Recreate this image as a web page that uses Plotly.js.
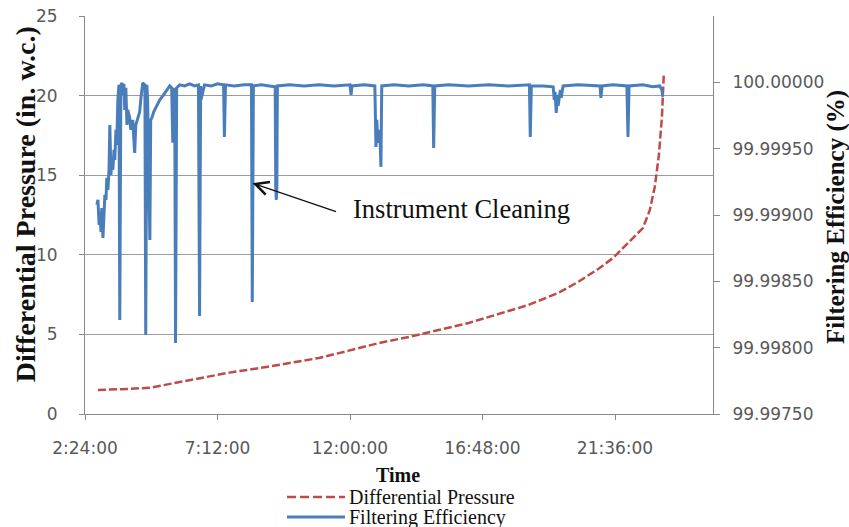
<!DOCTYPE html>
<html>
<head>
<meta charset="utf-8">
<script src="https://cdn.plot.ly/plotly-3.0.1.min.js"></script>
<style>html,body{margin:0;padding:0;background:#fff;}#chart{width:849px;height:527px;}</style>
</head>
<body>
<div id="chart"></div>
<script>
// ---- Data (time of day in hours) ----
const xTickVals = [2.4, 7.2, 12.0, 16.8, 21.6];
const xTickText = ["2:24:00", "7:12:00", "12:00:00", "16:48:00", "21:36:00"];
const yTickVals = [0, 5, 10, 15, 20, 25];
const y2TickVals = [99.9975, 99.998, 99.9985, 99.999, 99.9995, 100.0];
const y2TickText = ["99.99750", "99.99800", "99.99850", "99.99900", "99.99950", "100.00000"];

const dpTime = [2.87, 3.5, 4.0, 4.75, 5.5, 6.55, 7.63, 8.97, 10.88, 11.96, 13.05, 14.13, 15.21, 16.30, 17.38, 18.46, 19.54, 20.26, 20.99, 21.53, 22.07, 22.61, 22.86, 23.04, 23.19, 23.30, 23.37];
const diffPressure = [1.51, 1.53, 1.58, 1.65, 1.9, 2.26, 2.6, 2.95, 3.52, 3.98, 4.46, 4.84, 5.28, 5.72, 6.28, 6.85, 7.6, 8.29, 9.11, 9.8, 10.74, 11.68, 12.8, 14.26, 16.27, 18.66, 21.42];

const feTime = [2.83, 2.87, 2.91, 2.94, 2.98, 3.01, 3.05, 3.09, 3.12, 3.16, 3.19, 3.23, 3.27, 3.30, 3.34, 3.37, 3.41, 3.45, 3.48, 3.52, 3.55, 3.59, 3.63, 3.645, 3.66, 3.68, 3.70, 3.74, 3.77, 3.81, 3.84, 3.88, 3.92, 3.95, 4.02, 4.06, 4.13, 4.17, 4.20, 4.24, 4.31, 4.38, 4.42, 4.46, 4.49, 4.57, 4.60, 4.64, 4.67, 4.71, 4.75, 4.78, 4.82, 4.89, 4.96, 5.03, 5.11, 5.22, 5.32, 5.40, 5.47, 5.54, 5.58, 5.61, 5.65, 5.68, 5.72, 5.83, 6.01, 6.19, 6.37, 6.51, 6.55, 6.59, 6.60, 6.73, 6.98, 7.20, 7.42, 7.45, 7.49, 7.81, 8.17, 8.43, 8.46, 8.50, 8.79, 9.08, 9.29, 9.31, 9.33, 9.35, 9.37, 9.80, 10.34, 10.88, 11.42, 12.00, 12.04, 12.07, 12.51, 12.90, 12.94, 12.97, 13.01, 13.08, 13.12, 13.15, 13.59, 14.13, 14.67, 15.00, 15.03, 15.07, 15.57, 16.29, 17.02, 17.74, 18.50, 18.53, 18.57, 19.00, 19.36, 19.40, 19.43, 19.47, 19.51, 19.54, 19.62, 19.65, 19.72, 20.26, 20.81, 21.06, 21.09, 21.13, 21.53, 22.03, 22.07, 22.11, 22.61, 22.97, 23.22, 23.30, 23.33];
const filterEff = [99.999076, 99.999114, 99.998925, 99.999023, 99.998872, 99.999053, 99.998827, 99.999001, 99.999152, 99.999114, 99.999280, 99.999189, 99.999340, 99.999679, 99.999302, 99.999415, 99.999340, 99.999491, 99.999415, 99.999642, 99.999529, 99.999868, 99.999981, 99.999114, 99.998209, 99.999114, 99.999981, 99.999996, 99.999906, 99.999989, 99.999792, 99.999958, 99.999679, 99.999792, 99.999732, 99.999642, 99.999717, 99.999566, 99.999468, 99.999679, 99.999732, 99.999777, 99.999868, 99.999943, 99.999996, 99.999981, 99.998096, 99.999981, 99.999868, 99.999265, 99.998812, 99.999717, 99.999732, 99.999777, 99.999808, 99.999830, 99.999868, 99.999898, 99.999928, 99.999958, 99.999973, 99.999958, 99.999544, 99.999906, 99.999958, 99.998035, 99.999958, 99.999981, 99.999973, 99.999989, 99.999973, 99.999981, 99.998239, 99.999973, 99.999868, 99.999981, 99.999973, 99.999989, 99.999981, 99.999589, 99.999981, 99.999973, 99.999981, 99.999981, 99.998345, 99.999973, 99.999981, 99.999973, 99.999966, 99.999212, 99.999114, 99.999212, 99.999973, 99.999981, 99.999973, 99.999981, 99.999973, 99.999981, 99.999906, 99.999973, 99.999981, 99.999973, 99.999513, 99.999717, 99.999544, 99.999642, 99.999363, 99.999973, 99.999981, 99.999973, 99.999981, 99.999973, 99.999506, 99.999973, 99.999981, 99.999973, 99.999981, 99.999973, 99.999981, 99.999589, 99.999973, 99.999973, 99.999966, 99.999868, 99.999928, 99.999770, 99.999906, 99.999823, 99.999943, 99.999883, 99.999973, 99.999981, 99.999973, 99.999973, 99.999883, 99.999973, 99.999981, 99.999973, 99.999589, 99.999973, 99.999981, 99.999966, 99.999973, 99.999943, 99.999890];

const seriesNames = ["Differential Pressure", "Filtering Efficiency"];
const annotationText = "Instrument Cleaning";
const arrowTip = {x: 8.47, y: 14.5};

// ---- Styles ----
const RED = "#BE4B48", BLUE = "#4A7EBB", GRID = "#9c9c9c", AXIS = "#8a8a8a", TICK = "#595959";
const SERIF = "'Liberation Serif', 'Times New Roman', serif";
const SANS = "'DejaVu Sans', Verdana, sans-serif";

const traces = [
  {x: dpTime, y: diffPressure, name: seriesNames[0], type: "scatter", mode: "lines",
   line: {color: RED, width: 2.5, dash: "8px,3px"}, yaxis: "y"},
  {x: feTime, y: filterEff, name: seriesNames[1], type: "scatter", mode: "lines",
   line: {color: BLUE, width: 3}, yaxis: "y2"}
];

const layout = {
  width: 849, height: 527,
  margin: {l: 85, r: 136, t: 16, b: 113},
  paper_bgcolor: "#fff", plot_bgcolor: "#fff",
  showlegend: false,
  xaxis: {range: [2.4, 25.15], tickvals: xTickVals, ticktext: xTickText,
    showgrid: false, zeroline: false, showline: true, linecolor: AXIS, linewidth: 1,
    ticks: "outside", ticklen: 5, tickcolor: AXIS, ticklabelstandoff: 14,
    tickfont: {family: SANS, size: 17, color: TICK}},
  yaxis: {range: [0, 25], tickvals: yTickVals, showgrid: true, gridcolor: GRID, gridwidth: 1,
    zeroline: false, showline: true, linecolor: AXIS, ticks: "outside", ticklen: 5, tickcolor: AXIS,
    ticklabelstandoff: 18, tickfont: {family: SANS, size: 17, color: TICK}},
  yaxis2: {range: [99.9975, 100.0005], overlaying: "y", side: "right", tickvals: y2TickVals, ticktext: y2TickText,
    showgrid: false, zeroline: false, showline: true, linecolor: AXIS, ticks: "outside", ticklen: 6, tickcolor: AXIS,
    ticklabelstandoff: 9, tickfont: {family: SANS, size: 17, color: TICK}},
  shapes: [
    {type: "line", xref: "paper", yref: "paper", x0: 0.3217, x1: 0.414, y0: -0.2085, y1: -0.2085,
     line: {color: RED, width: 2.5, dash: "9px,4px"}},
    {type: "line", xref: "paper", yref: "paper", x0: 0.3217, x1: 0.414, y0: -0.2588, y1: -0.2588,
     line: {color: BLUE, width: 3}}
  ],
  annotations: [
    {x: arrowTip.x, y: arrowTip.y, xref: "x", yref: "y", text: "", showarrow: true,
     ax: 85, ay: 29, arrowhead: 5, arrowsize: 2, arrowwidth: 1.3, arrowcolor: "#111"},
    {x: 12.05, y: 12.85, xref: "x", yref: "y", text: annotationText, showarrow: false,
     xanchor: "left", yanchor: "middle", font: {family: SERIF, size: 26.5, color: "#111"}},
    {x: -0.0955, y: 0.527, xref: "paper", yref: "paper", text: "<b>Differential Pressure (in. w.c.)</b>",
     textangle: -90, showarrow: false, xanchor: "center", yanchor: "middle",
     font: {family: SERIF, size: 28, color: "#111"}},
    {x: 1.1959, y: 0.495, xref: "paper", yref: "paper", text: "<b>Filtering Efficiency (%)</b>",
     textangle: -90, showarrow: false, xanchor: "center", yanchor: "middle",
     font: {family: SERIF, size: 25, color: "#111"}},
    {x: 0.4984, y: -0.153, xref: "paper", yref: "paper", text: "<b>Time</b>", showarrow: false,
     xanchor: "center", yanchor: "middle", font: {family: SERIF, size: 20, color: "#111"}},
    {x: 0.4188, y: -0.2085, xref: "paper", yref: "paper", text: seriesNames[0], showarrow: false, borderpad: 0,
     xanchor: "left", yanchor: "middle", font: {family: SERIF, size: 20, color: "#111"}},
    {x: 0.4188, y: -0.2588, xref: "paper", yref: "paper", text: seriesNames[1], showarrow: false, borderpad: 0,
     xanchor: "left", yanchor: "middle", font: {family: SERIF, size: 20, color: "#111"}}
  ]
};

Plotly.newPlot("chart", traces, layout, {displayModeBar: false, staticPlot: true});
</script>
</body>
</html>
